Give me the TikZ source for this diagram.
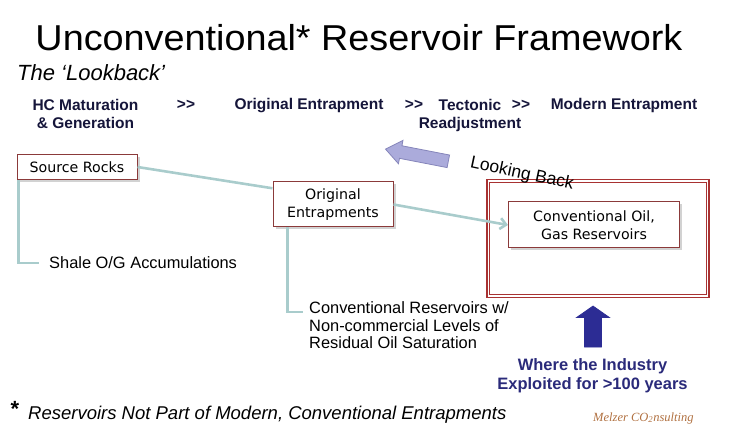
\documentclass[tikz,border=0pt]{standalone}
\usepackage{fontspec}
\setmainfont{Liberation Sans}
\newfontfamily\titlefont[FakeStretch=1.05]{Liberation Sans}
\newfontfamily\boxfont{DejaVu Sans}
\newfontfamily\signfont{Liberation Serif}
\usepackage{tikz}
\usetikzlibrary{arrows.meta,positioning,shapes.arrows,shadows}
\definecolor{boxred}{HTML}{8B3A3A}
\definecolor{framered}{HTML}{A83232}
\definecolor{linkteal}{HTML}{A9CCCC}
\definecolor{lbfill}{HTML}{ABABDB}
\definecolor{lbdraw}{HTML}{8585BA}
\definecolor{arrowblue}{HTML}{2C2C94}
\definecolor{hdrnavy}{HTML}{15153A}
\definecolor{indnavy}{HTML}{2A2A7A}
\definecolor{signbrown}{HTML}{B07040}

\begin{document}
\begin{tikzpicture}[
  x=1pt, y=-1pt,
  hdr/.style={font=\bfseries\fontsize{15.5}{18}\selectfont, text=hdrnavy,
    align=center, inner sep=0pt},
  rbox/.style={draw=boxred, line width=1pt, fill=white, align=center,
    inner sep=0pt, font=\boxfont\fontsize{14.2}{18}\selectfont,
    drop shadow={shadow xshift=2.5pt, shadow yshift=-2.5pt, fill=black!35}},
  label/.style={font=\fontsize{16.4}{17.5}\selectfont, inner sep=0pt, align=left},
  link/.style={draw=linkteal, line width=2.6pt},
  frameline/.style={draw=framered, line width=1.1pt},
  fatarrow/.style={single arrow, inner xsep=0pt, draw, line width=0.8pt}
]
\useasboundingbox (0,0) rectangle (731,438);
% title lines
\node[font=\titlefont\fontsize{36}{40}\selectfont, anchor=base] (title) at (359,51)
  {Unconventional* Reservoir Framework};
\node[font=\itshape\fontsize{22}{26}\selectfont, anchor=base west, inner sep=0pt]
  (sub) at (17,81) {The `Lookback'};
% stages
\node[hdr, anchor=north] (hc) at (85.5,99) {HC Maturation\\\& Generation};
\node[hdr, anchor=base] (gt1) at (186,110) {{>}{>}};
\node[hdr, anchor=base] (origh) at (309,110) {Original Entrapment};
\node[hdr, anchor=base] (gt2) at (414,110) {{>}{>}};
\node[hdr, anchor=north] (tect) at (470,99) {Tectonic\\Readjustment};
\node[hdr, anchor=base] (gt3) at (521,110) {{>}{>}};
\node[hdr, anchor=base] (modern) at (624,110) {Modern Entrapment};
% boxes
\node[frameline, minimum width=222pt, minimum height=118pt, inner sep=0pt]
  (frame) at (598,238.5) {};
\draw[frameline] ([shift={(3.2pt,-3.2pt)}]frame.north west)
  rectangle ([shift={(-3.2pt,3.2pt)}]frame.south east);
\node[rbox, minimum width=120pt, minimum height=25pt] (source) at (77,167) {Source Rocks};
\node[rbox, minimum width=120pt, minimum height=45pt] (orig) at (333,204.5)
  {Original\\Entrapments};
\node[rbox, minimum width=171pt, minimum height=46pt] (conv) at (594,225)
  {Conventional Oil,\\Gas Reservoirs};
% side labels
\node[label, anchor=base west] (shale) at (49,269) {Shale O/G Accumulations};
\node[label, anchor=north west] (resid) at (309,301.5)
  {Conventional Reservoirs w/\\Non-commercial Levels of\\Residual Oil Saturation};
\coordinate (residtip) at (303,312);
% connectors
\draw[link] (source.east) -- (orig.165);
\draw[link, -{Straight Barb[length=6pt, width=11pt]}] (orig.east) -- (conv.west);
\draw[link, shorten >=10pt] ([xshift=2pt]source.south west) |- (shale.west);
\draw[link] ([xshift=15pt]orig.south west) |- (residtip);
% looking back
\node[fatarrow, draw=lbdraw, fill=lbfill, minimum height=64pt, inner ysep=6pt,
  single arrow head extend=5.5pt, single arrow tip angle=75, rotate=169]
  (lookarrow) at (421,156) {};
\node[font=\fontsize{17.5}{20}\selectfont, rotate=-12] (lookback) at (522,174) {Looking Back};
% industry
\node[fatarrow, draw=arrowblue, fill=arrowblue, minimum height=41pt, inner ysep=8pt,
  single arrow head extend=8pt, single arrow tip angle=110, rotate=90]
  (uparrow) at (593,329.5) {};
\node[hdr, text=indnavy, font=\bfseries\fontsize{16.5}{19}\selectfont, anchor=north]
  (industry) at (592.5,358.5) {Where the Industry\\Exploited for >100 years};
% footnote
\node[font=\bfseries\fontsize{22}{24}\selectfont, inner sep=0pt] (star) at (15,409) {*};
\node[font=\itshape\fontsize{18.5}{22}\selectfont, anchor=base west, inner sep=0pt]
  (foot) at (28,419) {Reservoirs Not Part of Modern, Conventional Entrapments};
\node[font=\signfont\itshape\fontsize{12.5}{14}\selectfont, text=signbrown,
  anchor=base west, inner sep=0pt] (sign) at (593,421) {Melzer CO\textsubscript{2}nsulting};
\end{tikzpicture}
\end{document}
